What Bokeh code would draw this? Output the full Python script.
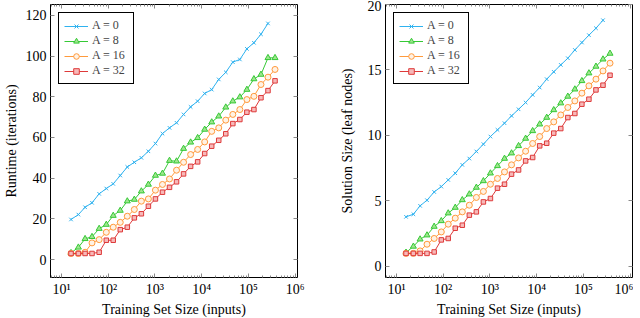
from bokeh.plotting import figure
from bokeh.models import LogAxis, LinearAxis, FixedTicker, Range1d
from bokeh.layouts import row
from bokeh.embed import file_html
from bokeh.resources import INLINE

# ---------------- data ----------------
sizes = [16, 23, 32, 45, 64, 91, 128, 181, 256, 362, 512, 724, 1024, 1448,
         2048, 2896, 4096, 5793, 8192, 11585, 16384, 23170, 32768, 46341,
         65536, 92682, 131072, 185364, 262144, 370728]

series_labels = ["A = 0", "A = 8", "A = 16", "A = 32"]

runtime_a0 = [19.7, 22.1, 25.7, 27.9, 32.3, 34.9, 37.2, 41.3, 45.5, 47.8, 50.0,
              53.2, 57.0, 61.9, 64.7, 67.2, 71.3, 75.0, 77.8, 81.6, 83.5, 88.5,
              92.0, 97.0, 98.3, 103.5, 106.5, 110.7, 116.0]
runtime_a8 = [3.3, 6.0, 10.2, 11.2, 15.2, 17.2, 21.6, 24.1, 28.7, 29.5, 33.6,
              36.9, 41.3, 42.3, 48.6, 48.3, 54.5, 57.6, 59.8, 63.9, 67.5, 70.4,
              74.8, 77.8, 79.8, 83.5, 88.7, 90.9, 99.1, 99.1]
runtime_a16 = [3.0, 3.0, 3.6, 8.2, 9.8, 13.4, 15.9, 18.3, 21.3, 24.6, 28.7,
               29.8, 34.1, 36.9, 39.6, 43.9, 47.8, 51.6, 54.1, 57.8, 63.0, 64.7,
               68.5, 71.3, 73.7, 78.6, 80.2, 86.0, 89.6, 93.4]
runtime_a32 = [3.0, 3.0, 3.0, 3.0, 3.6, 9.5, 9.5, 14.7, 15.9, 20.5, 22.5, 26.2,
               29.8, 33.1, 35.5, 38.2, 42.1, 45.8, 48.0, 52.1, 55.7, 58.6, 61.8,
               66.8, 68.8, 72.4, 73.7, 79.5, 83.0, 87.8]

size_a0 = [3.79, 3.99, 4.63, 5.06, 5.69, 6.10, 6.61, 7.12, 7.76, 8.24, 8.78,
           9.34, 9.92, 10.43, 10.94, 11.5, 12.0, 12.52, 13.1, 13.66, 14.3,
           14.86, 15.39, 15.9, 16.53, 17.1, 17.66, 18.19, 18.8]
size_a8 = [1.07, 1.53, 2.08, 2.39, 3.05, 3.48, 4.07, 4.5, 5.08, 5.52, 6.03,
           6.53, 7.12, 7.68, 8.24, 8.65, 9.21, 9.77, 10.35, 10.86, 11.37, 11.95,
           12.47, 12.98, 13.53, 14.17, 14.76, 15.27, 15.82, 16.26]
size_a16 = [1.0, 1.0, 1.19, 1.7, 2.14, 2.64, 3.23, 3.69, 4.17, 4.68, 5.27,
            5.73, 6.28, 6.72, 7.22, 7.76, 8.29, 8.8, 9.39, 9.92, 10.53, 11.04,
            11.57, 12.14, 12.64, 13.23, 13.79, 14.3, 14.93, 15.52]
size_a32 = [1.0, 1.0, 1.0, 1.0, 1.11, 2.03, 2.14, 2.92, 3.15, 3.92, 4.17, 4.93,
            5.19, 5.98, 6.28, 7.05, 7.37, 8.06, 8.32, 9.21, 9.41, 10.18, 10.53,
            11.37, 11.68, 12.39, 12.77, 13.48, 13.84, 14.6]

x_major = [10, 100, 1000, 10000, 100000, 1000000]
x_major_labels = ["10\u00b9", "10\u00b2", "10\u00b3", "10\u2074", "10\u2075", "10\u2076"]
runtime_ticks = [0, 20, 40, 60, 80, 100, 120]
size_ticks = [0, 5, 10, 15, 20]

# ---------------- style ----------------
FONT = "Liberation Serif"
colors = ["#2fb2ef", "#36c936", "#ff9a3c", "#de3a3a"]
fills = ["#2fb2ef", "#9fe58f", "#fff2e4", "#f7b9b9"]
markers = ["x", "triangle", "circle", "square"]
msizes = [5, 6, 6, 4.5]
TICK_COLOR = "#8a8a8a"

x_minor = [m * 10 ** d for d in range(0, 7) for m in range(2, 10)]


def style_axis(ax, labels=True):
    ax.axis_line_color = None
    ax.major_tick_in = 4
    ax.major_tick_out = 0
    ax.minor_tick_in = 2
    ax.minor_tick_out = 0
    ax.major_tick_line_color = TICK_COLOR
    ax.minor_tick_line_color = TICK_COLOR
    ax.major_label_text_font = FONT
    ax.major_label_text_color = "black"
    ax.axis_label_text_font = FONT
    ax.axis_label_text_font_size = "14px"
    ax.axis_label_text_font_style = "normal"
    ax.axis_label_text_color = "black"
    if labels:
        ax.major_label_text_font_size = "14px"
        ax.major_label_standoff = 4
    else:
        ax.major_label_text_font_size = "1px"
        ax.major_label_standoff = 0


def make_panel(ylabel, series, yticks, yrange, border_left, border_right, label_standoff):
    p = figure(x_axis_type="log",
               x_range=Range1d(10 ** 0.765, 10 ** 6.05),
               y_range=Range1d(*yrange),
               frame_width=247, frame_height=273,
               min_border_top=4, min_border_bottom=30,
               min_border_left=border_left, min_border_right=border_right,
               output_backend="svg", toolbar_location=None)
    p.grid.visible = False
    p.outline_line_color = "black"
    p.outline_line_width = 1
    p.outline_line_alpha = 1.0
    p.background_fill_color = "white"
    p.border_fill_color = "white"

    xb = p.xaxis[0]
    xb.ticker = FixedTicker(ticks=x_major, minor_ticks=x_minor)
    xb.major_label_overrides = {t: l for t, l in zip(x_major, x_major_labels)}
    xb.axis_label = "Training Set Size (inputs)"
    style_axis(xb)
    xb.axis_label_standoff = 2

    yl = p.yaxis[0]
    yl.ticker = FixedTicker(ticks=yticks)
    yl.axis_label = ylabel
    style_axis(yl)
    yl.axis_label_standoff = label_standoff

    xt = LogAxis(ticker=FixedTicker(ticks=x_major, minor_ticks=x_minor))
    style_axis(xt, labels=False)
    xt.major_label_overrides = {t: "" for t in x_major}
    p.add_layout(xt, "above")
    yr = LinearAxis(ticker=FixedTicker(ticks=yticks))
    style_axis(yr, labels=False)
    yr.major_label_overrides = {t: "" for t in yticks}
    p.add_layout(yr, "right")

    for ys, lbl, c, f, m, s in zip(series, series_labels, colors, fills, markers, msizes):
        xs = sizes[:len(ys)]
        p.line(xs, ys, line_color=c, line_width=1, legend_label=lbl)
        p.scatter(xs, ys, marker=m, size=s, line_color=c, fill_color=f,
                  line_width=1, legend_label=lbl)

    lg = p.legend[0]
    lg.location = "top_left"
    lg.margin = 8
    lg.padding = 5
    lg.spacing = 0
    lg.label_height = 14
    lg.label_width = 36
    lg.glyph_height = 14
    lg.glyph_width = 24
    lg.label_standoff = 4
    lg.label_text_font = FONT
    lg.label_text_font_size = "12px"
    lg.border_line_color = "black"
    lg.border_line_width = 1
    lg.border_line_alpha = 1.0
    lg.background_fill_alpha = 1.0
    return p


p1 = make_panel("Runtime (iterations)",
                [runtime_a0, runtime_a8, runtime_a16, runtime_a32],
                runtime_ticks, (-8.8, 125.3), 40, 39, 4)
p2 = make_panel("Solution Size (leaf nodes)",
                [size_a0, size_a8, size_a16, size_a32],
                size_ticks, (-0.84, 20.0), 45, 1, 10)

layout = row(p1, p2)
open("out.html", "w").write(file_html(layout, INLINE))
